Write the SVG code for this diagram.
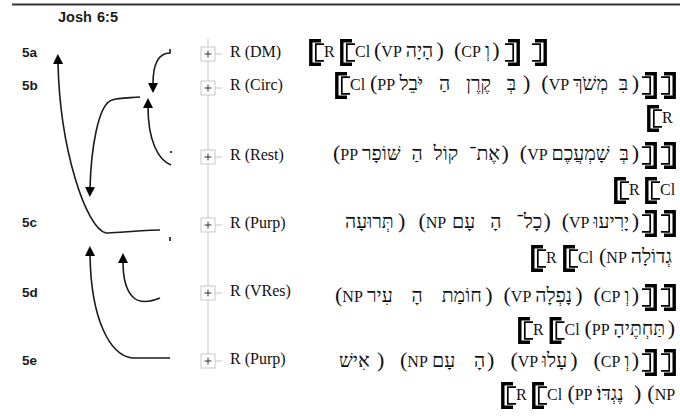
<svg xmlns="http://www.w3.org/2000/svg" xmlns:xlink="http://www.w3.org/1999/xlink" width="680" height="416" viewBox="0 0 680 416">
<style>
.lbl{font:bold 13.5px "Liberation Sans",Arial,sans-serif;fill:#1a1a1a}
.r{font:16px "Liberation Serif","Times New Roman",serif;fill:#111}
.t{font:16px "Liberation Serif","Times New Roman",serif;fill:#111}
.p{font:22px "Liberation Serif","Times New Roman",serif;fill:#111}
.h{font:19.5px "Liberation Serif","DejaVu Sans",serif;fill:#111;word-spacing:6px}
.tree{stroke:#c8c8c8;stroke-width:1;fill:none}
.box{fill:#fff;stroke:#c8c8c8;stroke-width:1}
.plus{stroke:#333;stroke-width:1}
.arc{fill:none;stroke:#1a1a1a;stroke-width:1.6}
.br path{fill:none;stroke:#000}
</style>
<defs>
<marker id="ah" viewBox="0 0 10 10" refX="1" refY="5" markerWidth="10" markerHeight="11" markerUnits="userSpaceOnUse" orient="auto"><path d="M0,0L10,5L0,10z" fill="#000"/></marker>
<g id="ob" class="br"><path d="M12,1.7H1.8V25.3H12" stroke-width="3.4"/><path d="M15,5.2H6.8V21.8H15" stroke-width="1.7"/></g>
<g id="cb" class="br"><path d="M3,1.7H13.2V25.3H3" stroke-width="3.4"/><path d="M0,5.2H8.2V21.8H0" stroke-width="1.7"/></g>
</defs>
<rect width="680" height="416" fill="#fff"/>
<line x1="12" y1="4.5" x2="680" y2="4.5" stroke="#333" stroke-width="2"/>
<g id="title"><text class="lbl" x="58" y="22" style="font-size:14.5px">Josh</text><text class="lbl" x="97" y="22" style="font-size:14.5px">6:5</text></g>
<g id="verses">
<text class="lbl" x="22" y="57">5a</text>
<text class="lbl" x="22" y="90">5b</text>
<text class="lbl" x="22" y="227">5c</text>
<text class="lbl" x="22" y="297">5d</text>
<text class="lbl" x="22" y="365">5e</text>
</g>
<g id="connectors">
<path class="arc" d="M160,230 C130,231 114,233 106,233 C86,228 60,150 58,63" marker-end="url(#ah)"/>
<path class="arc" d="M140,97 C128,98 118,98 112,100 C98,104 91,150 90,188" marker-end="url(#ah)"/>
<path class="arc" d="M170,49 V53 C160,53 153,60 153,84" marker-end="url(#ah)"/>
<path class="arc" d="M171,165 C158,160 148,140 148,107" marker-end="url(#ah)"/>
<path class="arc" d="M170,358 L132,358 C110,355 91,320 90,255" marker-end="url(#ah)"/>
<path class="arc" d="M160,298 C150,302 140,303 134,298 C127,292 123,280 123,262" marker-end="url(#ah)"/>
<path class="arc" d="M171,151 v2 M170,237 v4" stroke-width="1"/>
</g>
<g id="tree">
<line class="tree" x1="208" y1="38" x2="208" y2="361"/>
<g id="n-dm"><rect class="box" x="201" y="47" width="14" height="14"/><path class="plus" d="M204.5,54H211.5M208,50.5V57.5"/><line class="tree" x1="215" y1="54" x2="222" y2="54"/><text class="r" x="230" y="57">R (DM)</text></g>
<g id="n-circ"><rect class="box" x="201" y="81" width="14" height="14"/><path class="plus" d="M204.5,88H211.5M208,84.5V91.5"/><line class="tree" x1="215" y1="88" x2="222" y2="88"/><text class="r" x="230" y="90">R (Circ)</text></g>
<g id="n-rest"><rect class="box" x="201" y="150" width="14" height="14"/><path class="plus" d="M204.5,157H211.5M208,153.5V160.5"/><line class="tree" x1="215" y1="157" x2="222" y2="157"/><text class="r" x="230" y="160">R (Rest)</text></g>
<g id="n-purp1"><rect class="box" x="201" y="218" width="14" height="14"/><path class="plus" d="M204.5,225H211.5M208,221.5V228.5"/><line class="tree" x1="215" y1="225" x2="222" y2="225"/><text class="r" x="230" y="228">R (Purp)</text></g>
<g id="n-vres"><rect class="box" x="201" y="286" width="14" height="14"/><path class="plus" d="M204.5,293H211.5M208,289.5V296.5"/><line class="tree" x1="215" y1="293" x2="222" y2="293"/><text class="r" x="230" y="296">R (VRes)</text></g>
<g id="n-purp2"><rect class="box" x="201" y="354" width="14" height="14"/><path class="plus" d="M204.5,361H211.5M208,357.5V364.5"/><line class="tree" x1="215" y1="361" x2="222" y2="361"/><text class="r" x="230" y="364">R (Purp)</text></g>
</g>
<g id="s5a">
<use xlink:href="#ob" x="309" y="39"/><text class="t" x="324" y="57">R</text>
<use xlink:href="#ob" x="340" y="39"/><text class="t" x="355" y="57">Cl</text>
<text class="t" x="374" y="57"><tspan class="p">(</tspan>VP</text><text class="h" x="405.7" y="57">הָיָה</text><text class="p" x="436.4" y="57">)</text>
<text class="t" x="454" y="57"><tspan class="p">(</tspan>CP</text><text class="h" x="485" y="57">וְ</text><text class="p" x="492.3" y="57">)</text>
<use xlink:href="#cb" x="505" y="39"/><use xlink:href="#cb" x="532" y="39"/>
</g>
<g id="s5b">
<use xlink:href="#ob" x="335" y="72"/><text class="t" x="350" y="90">Cl</text>
<text class="t" x="370" y="90"><tspan class="p">(</tspan>PP</text><text class="h" x="399.4" y="90" style="word-spacing:11px">בְּ קֶרֶן הַ יֹּבֵל</text><text class="p" x="523" y="90">)</text>
<text class="t" x="541.3" y="90"><tspan class="p">(</tspan>VP</text><text class="h" x="573" y="90">בִּ מְשֹׁךְ</text><text class="p" x="631.7" y="90">)</text>
<use xlink:href="#cb" x="642" y="72"/><use xlink:href="#cb" x="661" y="72"/>
<use xlink:href="#ob" x="647" y="105"/><text class="t" x="662" y="123">R</text>
</g>
<g id="s5b-rest">
<text class="t" x="333" y="160"><tspan class="p">(</tspan>PP</text><text class="h" x="362" y="160" style="word-spacing:6px">אֶת־ קוֹל הַ שּׁוֹפָר</text><text class="p" x="501.5" y="160">)</text>
<text class="t" x="519.8" y="160"><tspan class="p">(</tspan>VP</text><text class="h" x="551.5" y="160" style="word-spacing:5px">בְּ שָׁמְעֲכֶם</text><text class="p" x="631.7" y="160">)</text>
<use xlink:href="#cb" x="642" y="142"/><use xlink:href="#cb" x="661" y="142"/>
<use xlink:href="#ob" x="614" y="177"/><text class="t" x="629" y="195">R</text>
<use xlink:href="#ob" x="645" y="177"/><text class="t" x="660" y="195">Cl</text>
</g>
<g id="s5c">
<text class="h" x="345" y="228">תְּרוּעָה</text><text class="p" x="398" y="228">)</text>
<text class="t" x="418.4" y="228"><tspan class="p">(</tspan>NP</text><text class="h" x="452.1" y="228" style="word-spacing:10px">כָל־ הָ עָם</text><text class="p" x="543.4" y="228">)</text>
<text class="t" x="561.7" y="228"><tspan class="p">(</tspan>VP</text><text class="h" x="593.4" y="228">יָרִיעוּ</text><text class="p" x="631.7" y="228">)</text>
<use xlink:href="#cb" x="642" y="210"/><use xlink:href="#cb" x="661" y="210"/>
<use xlink:href="#ob" x="531" y="245"/><text class="t" x="546" y="263">R</text>
<use xlink:href="#ob" x="563" y="245"/><text class="t" x="578" y="263">Cl</text>
<text class="t" x="599" y="263"><tspan class="p">(</tspan>NP</text><text class="h" x="630.7" y="263">גְדוֹלָה</text>
</g>
<g id="s5d">
<text class="t" x="335" y="302"><tspan class="p">(</tspan>NP</text><text class="h" x="367" y="302" style="word-spacing:14px">חוֹמַת הָ עִיר</text><text class="p" x="485.2" y="302">)</text>
<text class="t" x="503.5" y="302"><tspan class="p">(</tspan>VP</text><text class="h" x="535.2" y="302">נָפְלָה</text><text class="p" x="575.2" y="302">)</text>
<text class="t" x="593.5" y="302"><tspan class="p">(</tspan>CP</text><text class="h" x="624.4" y="302">וְ</text><text class="p" x="631.7" y="302">)</text>
<use xlink:href="#cb" x="642" y="284"/><use xlink:href="#cb" x="661" y="284"/>
<use xlink:href="#ob" x="518" y="317"/><text class="t" x="533" y="335">R</text>
<use xlink:href="#ob" x="549.5" y="317"/><text class="t" x="564.5" y="335">Cl</text>
<text class="t" x="584.5" y="335"><tspan class="p">(</tspan>PP</text><text class="h" x="613.6" y="335">תַּחְתֶּיהָ</text><text class="p" x="667.7" y="335">)</text>
</g>
<g id="s5e">
<text class="h" x="339" y="367">אִישׁ</text><text class="p" x="377" y="367">)</text>
<text class="t" x="400" y="367"><tspan class="p">(</tspan>NP</text><text class="h" x="432" y="367" style="word-spacing:14px">הָ עָם</text><text class="p" x="487.1" y="367">)</text>
<text class="t" x="510.4" y="367"><tspan class="p">(</tspan>VP</text><text class="h" x="542.1" y="367">עָלוּ</text><text class="p" x="570.2" y="367">)</text>
<text class="t" x="593.5" y="367"><tspan class="p">(</tspan>CP</text><text class="h" x="624.4" y="367">וְ</text><text class="p" x="631.7" y="367">)</text>
<use xlink:href="#cb" x="642" y="349"/><use xlink:href="#cb" x="661" y="349"/>
<use xlink:href="#ob" x="501" y="382"/><text class="t" x="516" y="400">R</text>
<use xlink:href="#ob" x="532" y="382"/><text class="t" x="547" y="400">Cl</text>
<text class="t" x="567.4" y="400"><tspan class="p">(</tspan>PP</text><text class="h" x="596.5" y="400">נֶגְדּוֹ׃</text><text class="p" x="634" y="400">)</text>
<text class="t" x="647.3" y="400"><tspan class="p">(</tspan>NP</text>
</g>
</svg>
